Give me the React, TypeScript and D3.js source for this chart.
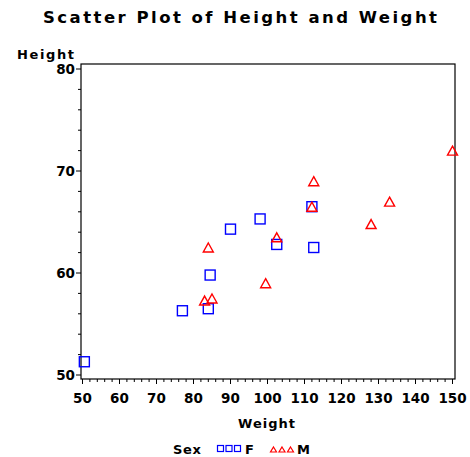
import React from "react";
import * as d3 from "d3";

const names = ["Alfred","Alice","Barbara","Carol","Henry","James","Jane","Janet","Jeffrey","John","Joyce","Judy","Louise","Mary","Philip","Robert","Ronald","Thomas","William"];
const sex = ["M","F","F","F","M","M","F","F","M","M","F","F","F","F","M","M","M","M","M"];
const height = [69.0,56.5,65.3,62.8,63.5,57.3,59.8,62.5,62.5,59.0,51.3,64.3,56.3,66.5,72.0,64.8,67.0,57.5,66.5];
const weight = [112.5,84.0,98.0,102.5,102.5,83.0,84.5,112.5,84.0,99.5,50.5,90.0,77.0,112.0,150.0,128.0,133.0,85.0,112.0];
const xTicks = [50,60,70,80,90,100,110,120,130,140,150];
const yTicks = [50,60,70,80];

const FONT = "'DejaVu Sans', Arial, sans-serif";
const BLUE = "#0000ff";
const RED = "#ff0000";

function Square({ cx, cy, s, w = 1.4 }: { cx: number; cy: number; s: number; w?: number }) {
  return <rect x={cx - s / 2} y={cy - s / 2} width={s} height={s} fill="none" stroke={BLUE} strokeWidth={w} />;
}
function Tri({ cx, cy, s, h, w = 1.4 }: { cx: number; cy: number; s: number; h: number; w?: number }) {
  const p = d3.path();
  p.moveTo(cx, cy - h / 2);
  p.lineTo(cx + s / 2, cy + h / 2);
  p.lineTo(cx - s / 2, cy + h / 2);
  p.closePath();
  return <path d={p.toString()} fill="none" stroke={RED} strokeWidth={w} />;
}

export default function App() {
  const x = d3.scaleLinear().domain([50, 150]).range([82.5, 452.5]);
  const y = d3.scaleLinear().domain([50, 80]).range([375, 69]);
  const frameL = 81, frameR = 455, frameT = 64, frameB = 379;
  const xMinor = d3.range(50, 150.01, 2);
  const yMinor = d3.range(50, 80.01, 2);
  return (
    <svg width={470} height={457} style={{ position: "absolute", left: 0, top: 0, background: "#fff" }}>
      <text x={43} y={23} fontFamily={FONT} fontWeight="bold" fontSize={16.5} textLength={394} lengthAdjust="spacing">Scatter Plot of Height and Weight</text>
      <text x={17} y={59} fontFamily={FONT} fontWeight="bold" fontSize={13} textLength={57} lengthAdjust="spacing">Height</text>
      <rect x={frameL} y={frameT} width={frameR - frameL} height={frameB - frameT} fill="none" stroke="#000" strokeWidth={1.2} />
      {yMinor.map((v) => {
        const major = v % 10 === 0;
        return <line key={"ym" + v} x1={frameL} x2={frameL - (major ? 5 : 3)} y1={y(v)} y2={y(v)} stroke="#000" strokeWidth={1} />;
      })}
      {yTicks.map((v) => (
        <text key={"yt" + v} x={75} y={y(v) + 5} textAnchor="end" fontFamily={FONT} fontWeight="bold" fontSize={13.5}>{v}</text>
      ))}
      {xMinor.map((v) => {
        const major = v % 10 === 0;
        return <line key={"xm" + v} x1={x(v)} x2={x(v)} y1={frameB} y2={frameB + (major ? 5 : 3)} stroke="#000" strokeWidth={1} />;
      })}
      {xTicks.map((v) => (
        <text key={"xt" + v} x={x(v)} y={403} textAnchor="middle" fontFamily={FONT} fontWeight="bold" fontSize={13.5}>{v}</text>
      ))}
      <text x={238} y={428} fontFamily={FONT} fontWeight="bold" fontSize={13} textLength={57} lengthAdjust="spacing">Weight</text>
      {names.map((n, i) =>
        sex[i] === "F" ? (
          <Square key={n} cx={x(weight[i])} cy={y(height[i])} s={10} />
        ) : (
          <Tri key={n} cx={x(weight[i])} cy={y(height[i])} s={10} h={9} />
        )
      )}
      <text x={173} y={453.5} fontFamily={FONT} fontWeight="bold" fontSize={13} textLength={28} lengthAdjust="spacing">Sex</text>
      {[0, 1, 2].map((k) => (
        <Square key={"ls" + k} cx={220.5 + k * 8.5} cy={448.5} s={6} w={1.2} />
      ))}
      <text x={245} y={453.5} fontFamily={FONT} fontWeight="bold" fontSize={13}>F</text>
      {[0, 1, 2].map((k) => (
        <Tri key={"lt" + k} cx={273.5 + k * 8.5} cy={449.5} s={6} h={5} w={1.2} />
      ))}
      <text x={297} y={453.5} fontFamily={FONT} fontWeight="bold" fontSize={13}>M</text>
    </svg>
  );
}
